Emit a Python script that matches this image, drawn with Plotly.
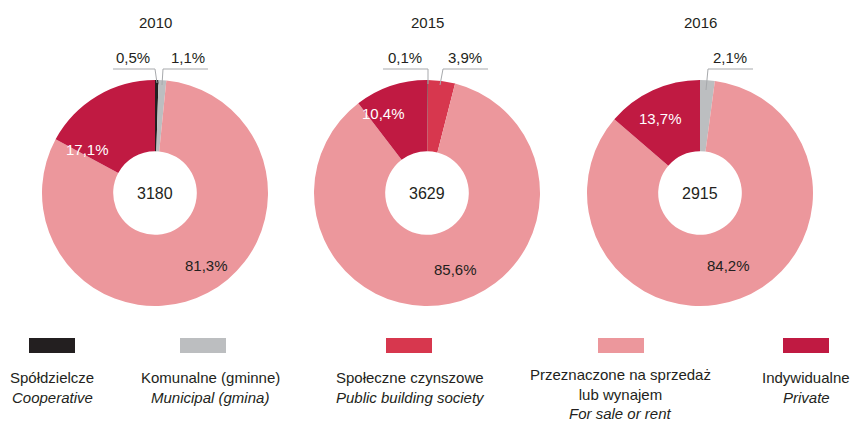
import plotly.graph_objects as go

years = ["2010", "2015", "2016"]
categories = ["Spółdzielcze", "Komunalne (gminne)", "Społeczne czynszowe",
              "Przeznaczone na sprzedaż<br>lub wynajem", "Indywidualne"]
categories_en = ["Cooperative", "Municipal (gmina)", "Public building society",
                 "For sale or rent", "Private"]
values_2010 = [0.5, 1.1, 0.0, 81.3, 17.1]
values_2015 = [0.1, 0.0, 3.9, 85.6, 10.4]
values_2016 = [0.0, 2.1, 0.0, 84.2, 13.7]
totals = [3180, 3629, 2915]
colors = ["#231f20", "#bcbec0", "#d7374e", "#ec979c", "#c01a42"]

W, H = 853, 423
centers_x = [155, 427, 700]
center_y = 193
R = 113

FONT = "Liberation Sans Narrow, Arial Narrow, Liberation Sans, Arial"

fig = go.Figure()
all_vals = [values_2010, values_2015, values_2016]
for i, vals in enumerate(all_vals):
    cx = centers_x[i]
    fig.add_trace(go.Pie(
        labels=categories, values=vals, sort=False, direction="clockwise",
        rotation=0, hole=0.37, textinfo="none", hoverinfo="label+value",
        marker=dict(colors=colors, line=dict(width=0)),
        domain=dict(x=[(cx - R) / W, (cx + R) / W],
                    y=[(H - center_y - R) / H, (H - center_y + R) / H]),
        showlegend=False))

# hidden pixel axes for annotations and shapes
fig.add_trace(go.Scatter(x=[0, W], y=[0, H], mode="markers",
                         marker=dict(opacity=0), hoverinfo="skip", showlegend=False))

def fmt(v):
    return f"{v:.1f}".replace(".", ",") + "%"

ann = []
shapes = []
# titles and totals
for i in range(3):
    ann.append(dict(x=centers_x[i], y=22, text=years[i], showarrow=False,
                    font=dict(size=15, color="#231f20")))
    ann.append(dict(x=centers_x[i], y=center_y, text=str(totals[i]), showarrow=False,
                    font=dict(size=16, color="#231f20")))

# inside labels (year index, category index, x, y, color)
inside = [(0, 4, 87, 149, "white"), (0, 3, 206, 265, "#231f20"),
          (1, 4, 383, 113, "white"), (1, 3, 455, 269, "#231f20"),
          (2, 4, 660, 118, "white"), (2, 3, 728, 265, "#231f20")]
for yi, ci, x, y, c in inside:
    ann.append(dict(x=x, y=y, text=fmt(all_vals[yi][ci]), showarrow=False,
                    font=dict(size=15, color=c)))

# callouts: (year idx, cat idx, text x, line x0, line x1, elbow x, dot x, dot y, dot color)
callouts = [(0, 0, 133, 113, 155, 155, 157, 83, "#231f20"),
            (0, 1, 188, 163, 208, 163, 162, 85, "#231f20"),
            (1, 0, 405, 383, 428, 428, 428, 84, "white"),
            (1, 2, 465, 443, 488, 443, 440, 85, "white"),
            (2, 1, 730, 708, 753, 708, 706, 90, "#231f20")]
line_y = 69
dots_x, dots_y, dots_c = [], [], []
for yi, ci, tx, x0, x1, ex, dx, dy, dc in callouts:
    ann.append(dict(x=tx, y=57, text=fmt(all_vals[yi][ci]), showarrow=False,
                    font=dict(size=15, color="#231f20")))
    shapes.append(dict(type="line", x0=x0, x1=x1, y0=line_y, y1=line_y,
                       line=dict(color="#a7a9ac", width=1)))
    shapes.append(dict(type="line", x0=ex, x1=dx, y0=line_y, y1=dy,
                       line=dict(color="#a7a9ac", width=1)))
    dots_x.append(dx); dots_y.append(dy); dots_c.append(dc)

fig.add_trace(go.Scatter(x=dots_x, y=dots_y, mode="markers",
                         marker=dict(size=4, color=dots_c), hoverinfo="skip",
                         showlegend=False))

# legend
leg_x = [52, 203, 409, 621, 806]
text_x = [52, 210, 410, 620, 806]
for i in range(5):
    shapes.append(dict(type="rect", x0=leg_x[i] - 23, x1=leg_x[i] + 23, y0=338, y1=353,
                       fillcolor=colors[i], line=dict(width=0)))
    two = "<br>" in categories[i]
    ann.append(dict(x=text_x[i], y=384 if two else 377, text=categories[i],
                    showarrow=False, align="center", borderpad=0,
                    font=dict(size=15, color="#231f20")))
    ann.append(dict(x=text_x[i], y=413 if two else 397,
                    text="<i>" + categories_en[i] + "</i>", borderpad=0,
                    showarrow=False, font=dict(size=15, color="#231f20")))

for a in ann:
    a.setdefault("xref", "x")
    a.setdefault("yref", "y")
for s in shapes:
    s["xref"] = "x"; s["yref"] = "y"; s["layer"] = "above"

fig.update_layout(
    width=W, height=H, margin=dict(l=0, r=0, t=0, b=0),
    paper_bgcolor="white", plot_bgcolor="rgba(0,0,0,0)",
    font=dict(family=FONT, color="#231f20"),
    xaxis=dict(range=[0, W], visible=False, fixedrange=True),
    yaxis=dict(range=[H, 0], visible=False, fixedrange=True),
    annotations=ann, shapes=shapes)

fig.write_html("out.html", config={"displayModeBar": False},
               post_script="document.body.style.margin='0px';document.body.style.overflow='hidden';")
